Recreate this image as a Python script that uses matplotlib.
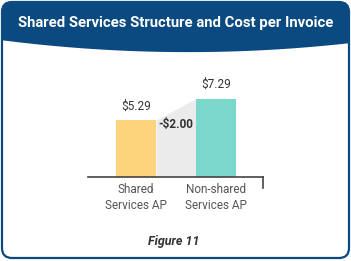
import numpy as np
import matplotlib
matplotlib.use("Agg")
import matplotlib.pyplot as plt
from matplotlib.patches import FancyBboxPatch, Polygon

plt.rcParams['font.family'] = ['Roboto', 'DejaVu Sans']

# data
categories = ["Shared\nServices AP", "Non-shared\nServices AP"]
cost_per_invoice = [5.29, 7.29]
value_labels = ["$5.29", "$7.29"]
diff_label = "-$2.00"
bar_colors = ["#fdd37b", "#7bd7cc"]

title = "Shared Services Structure and Cost per Invoice"
caption = "Figure 11"

blue = "#0b4a80"
W, H = 351, 261

fig = plt.figure(figsize=(W / 100, H / 100), dpi=100)

# card background / header, in pixel coords
bg = fig.add_axes([0, 0, 1, 1])
bg.set_xlim(0, W)
bg.set_ylim(H, 0)
bg.axis("off")

card = FancyBboxPatch((2, 2), W - 4, H - 5, boxstyle="round,pad=0,rounding_size=10",
                      facecolor="white", edgecolor=blue, linewidth=1.6, zorder=1)
bg.add_patch(card)

xs = np.linspace(0, W, 60)
curve = 40 + 0.1289 * xs - 3.428e-4 * xs ** 2
hdr_pts = [(0, 0), (W, 0)] + list(zip(xs[::-1], curve[::-1]))
header = Polygon(hdr_pts, closed=True, facecolor=blue, edgecolor="none", zorder=2)
bg.add_patch(header)
header.set_clip_path(card)

bg.text(W / 2, 23, title, color="white", fontsize=10.7, fontweight="bold",
        ha="center", va="center", zorder=3)
bg.text(174, 241.5, caption, color="#333333", fontsize=9, fontweight="bold",
        fontstyle="italic", ha="center", va="center", zorder=3)

# bar chart
ax = fig.add_axes([88 / W, 84.5 / H, 175 / W, 106.8 / H])
ax.patch.set_alpha(0)
xpos = np.arange(len(categories))
bw = 0.5
ax.fill_between([xpos[0] + bw / 2, xpos[1] - bw / 2], 0, cost_per_invoice,
                color="#ebebeb", linewidth=0, zorder=1)
ax.bar(xpos, cost_per_invoice, width=bw, color=bar_colors, zorder=2)

for x, v, lab in zip(xpos, cost_per_invoice, value_labels):
    ax.text(x, v + 0.7, lab, ha="center", va="bottom", fontsize=8.5, color="#333333")
ax.text(xpos.mean(), cost_per_invoice[0] - 0.45, diff_label,
        ha="center", va="center", fontsize=8.5, fontweight="bold", color="#333333", zorder=3)

ax.set_xlim(-0.6, 1.5875)
ax.set_ylim(0, 10)
ax.set_xticks(xpos)
ax.set_xticklabels(categories, fontsize=8.5, color="#555555", linespacing=1.25)
ax.tick_params(axis="x", length=0, pad=5)
ax.set_yticks([])
for s in ["top", "left", "right"]:
    ax.spines[s].set_visible(False)
ax.spines["bottom"].set_color("#444444")
ax.spines["bottom"].set_linewidth(1.2)
ax.plot([1.5875, 1.5875], [0, -1.1], color="#444444", linewidth=1.2, clip_on=False)

fig.savefig("out.png", dpi=100)
